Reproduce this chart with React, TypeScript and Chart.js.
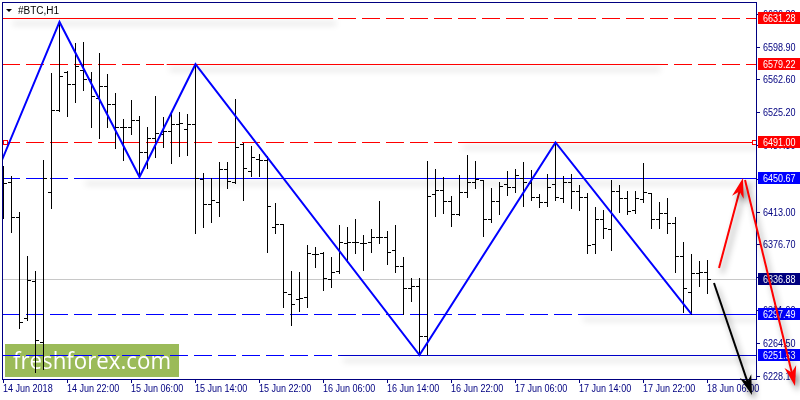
import { useEffect, useRef } from 'react'
import { Chart, LineController, LineElement, PointElement, LinearScale } from 'chart.js'

Chart.register(LineController, LineElement, PointElement, LinearScale)

// #BTC H1 bars, 14 Jun 14:00 .. 18 Jun 06:00
const opens = [6454.4, 6446.5, 6407.0, 6293.2, 6334.9, 6266.2, 6435.2, 6527.6, 6570.4, 6556.9,
  6572.7, 6562.5, 6541.1, 6554.6, 6534.4, 6508.4, 6508.4, 6516.3, 6480.3, 6496.0,
  6500.6, 6503.9, 6511.8, 6506.2, 6511.8, 6449.9, 6421.7, 6423.9, 6461.1, 6446.5,
  6489.3, 6458.9, 6472.4, 6471.3, 6395.8, 6399.1, 6320.3, 6314.6, 6316.9, 6365.3,
  6366.5, 6337.2, 6346.2, 6377.7, 6378.9, 6377.7, 6378.9, 6384.5, 6384.5, 6369.8,
  6351.8, 6327.0, 6329.3, 6272.9, 6432.9, 6437.5, 6425.1, 6410.4, 6435.2, 6446.5,
  6448.7, 6404.8, 6425.1, 6444.2, 6440.8, 6451.0, 6445.3, 6429.6, 6423.9, 6444.2,
  6428.4, 6446.5, 6436.3, 6429.6, 6376.6, 6404.8, 6393.5, 6436.3, 6428.4, 6414.9,
  6427.3, 6434.1, 6404.8, 6411.5, 6400.3, 6363.1, 6322.5, 6343.9, 6345.0]
const highs = [6464.5, 6453.2, 6412.7, 6363.1, 6346.2, 6471.3, 6569.3, 6626.8, 6571.5, 6603.1,
  6604.2, 6570.4, 6591.8, 6568.2, 6546.8, 6517.5, 6538.9, 6520.8, 6508.4, 6543.4,
  6519.7, 6525.3, 6525.3, 6523.1, 6579.22, 6456.6, 6451.0, 6469.0, 6469.0, 6540.0,
  6490.4, 6487.0, 6478.0, 6475.8, 6422.8, 6399.6, 6346.2, 6345.0, 6375.5, 6373.2,
  6367.6, 6362.0, 6398.0, 6395.8, 6404.8, 6386.7, 6393.5, 6425.1, 6391.3, 6398.0,
  6362.0, 6338.3, 6338.3, 6470.1, 6461.1, 6452.1, 6430.7, 6454.4, 6476.9, 6470.1,
  6449.2, 6439.7, 6446.5, 6458.9, 6461.1, 6469.0, 6460.0, 6432.9, 6455.5, 6491.0,
  6453.2, 6455.5, 6443.1, 6434.1, 6418.3, 6414.9, 6448.7, 6443.1, 6436.3, 6436.3,
  6467.9, 6434.6, 6423.9, 6428.4, 6407.0, 6378.9, 6365.3, 6357.4, 6358.6]
const lows = [6405.9, 6390.1, 6281.9, 6291.0, 6232.9, 6235.7, 6417.2, 6526.5, 6520.8, 6536.6,
  6550.1, 6508.4, 6496.0, 6508.4, 6484.8, 6471.3, 6500.6, 6452.1, 6462.2, 6474.6,
  6485.9, 6467.9, 6475.8, 6476.9, 6389.0, 6395.8, 6401.4, 6408.2, 6439.7, 6445.3,
  6426.2, 6453.2, 6453.2, 6367.6, 6389.0, 6305.6, 6285.3, 6301.1, 6305.6, 6350.7,
  6324.8, 6328.2, 6343.9, 6356.3, 6366.5, 6347.3, 6367.6, 6377.7, 6354.1, 6345.0,
  6297.7, 6312.4, 6251.53, 6252.3, 6408.2, 6411.5, 6396.9, 6409.3, 6429.6, 6439.7,
  6385.6, 6401.4, 6410.4, 6431.8, 6435.2, 6419.4, 6426.2, 6418.3, 6419.4, 6426.2,
  6423.9, 6417.2, 6414.9, 6366.5, 6366.5, 6383.4, 6369.8, 6412.7, 6410.4, 6411.5,
  6423.9, 6394.6, 6394.6, 6389.0, 6345.0, 6300.0, 6297.49, 6329.3, 6321.4]
const closes = [6445.3, 6407.0, 6288.7, 6336.0, 6268.4, 6451.0, 6527.6, 6565.9, 6556.9, 6577.2,
  6562.5, 6543.4, 6554.6, 6534.4, 6508.4, 6507.9, 6516.3, 6480.3, 6496.0, 6501.7,
  6503.9, 6511.8, 6512.9, 6511.8, 6451.0, 6421.7, 6426.2, 6461.1, 6447.6, 6485.9,
  6462.2, 6474.6, 6471.3, 6419.4, 6399.1, 6322.5, 6309.0, 6315.8, 6366.5, 6364.8,
  6338.3, 6345.0, 6378.9, 6378.9, 6378.4, 6377.2, 6384.5, 6384.0, 6367.6, 6351.8,
  6327.0, 6329.3, 6272.9, 6430.7, 6437.5, 6425.1, 6410.4, 6435.2, 6446.5, 6449.9,
  6404.8, 6425.1, 6442.0, 6440.8, 6454.4, 6446.5, 6429.6, 6423.9, 6440.8, 6429.6,
  6446.5, 6436.3, 6429.6, 6375.5, 6404.8, 6394.6, 6436.3, 6428.4, 6413.8, 6428.4,
  6435.2, 6404.8, 6411.5, 6400.3, 6363.1, 6327.0, 6343.9, 6345.0, 6336.88]

const timeLabels = ['14 Jun 2018', '14 Jun 22:00', '15 Jun 06:00', '15 Jun 14:00', '15 Jun 22:00',
  '16 Jun 06:00', '16 Jun 14:00', '16 Jun 22:00', '17 Jun 06:00', '17 Jun 14:00', '17 Jun 22:00', '18 Jun 06:00']
const timeLabelBars = [0, 8, 16, 24, 32, 40, 48, 56, 64, 72, 80, 88]

const priceTicks = [6636.30, 6598.90, 6562.60, 6525.20, 6487.80, 6450.40, 6413.00, 6376.70, 6339.30, 6301.90, 6264.50, 6228.10]

const zigzagBars = [-1, 7, 17, 24, 52, 69, 86]
const zigzagPrices = [6453.7, 6626.8, 6452.1, 6579.22, 6251.53, 6491.0, 6297.49]

// horizontal levels: dashed across, solid part from/to bar index
const levelPrices = [6631.28, 6579.22, 6491.00, 6450.67, 6297.49, 6251.53]
const levelSolidFrom = [0.8, 20.4, 57.1, 9.9, 72.1, 42.1]
const levelSolidTo = [41.2, 81.7, 95, 95, 95, 95]

const bidPrice = 6336.88

// arrows drawn on the chart (bar index, price)
const arrowFromBar = [89.44, 92.69, 88.81]
const arrowFromPrice = [6349.6, 6448.7, 6332.7]
const arrowToBar = [92.44, 98.94, 93.56]
const arrowToPrice = [6451.0, 6216.6, 6206.4]

// styles
const RED = '#ff0000'
const BLUE = '#0000ff'
const NAVY = '#000080'
const levelColors = [RED, RED, RED, BLUE, BLUE, BLUE]
const levelSolidColors = [RED, RED, RED, BLUE, BLUE, '#0000c8']
const arrowColors = [RED, RED, '#000000']

function narrowText(ctx: CanvasRenderingContext2D, text: string, x: number, y: number) {
  ctx.save()
  ctx.translate(x, y)
  ctx.scale(0.82, 1)
  ctx.fillText(text, 0, 0)
  ctx.restore()
}

function shadow(ctx: CanvasRenderingContext2D, a = 0.4) {
  ctx.shadowColor = `rgba(0,0,0,${a})`
  ctx.shadowBlur = 6
  ctx.shadowOffsetX = 3
  ctx.shadowOffsetY = 5
}

function arrow(ctx: CanvasRenderingContext2D, x1: number, y1: number, x2: number, y2: number, color: string) {
  const ang = Math.atan2(y2 - y1, x2 - x1)
  const len = Math.hypot(x2 - x1, y2 - y1)
  ctx.save()
  shadow(ctx, 0.45)
  ctx.translate(x1, y1)
  ctx.rotate(ang)
  ctx.strokeStyle = color
  ctx.lineWidth = 2
  ctx.beginPath()
  ctx.moveTo(0, 0)
  ctx.lineTo(len - 10, 0)
  ctx.stroke()
  ctx.fillStyle = color
  ctx.beginPath()
  ctx.moveTo(len, 0)
  ctx.lineTo(len - 20, -6)
  ctx.lineTo(len - 14, 0)
  ctx.lineTo(len - 20, 6)
  ctx.closePath()
  ctx.fill()
  ctx.restore()
}

const mtPlugin = {
  id: 'mt4',
  beforeDraw(chart: any) {
    const ctx = chart.ctx
    ctx.save()
    ctx.fillStyle = '#ffffff'
    ctx.fillRect(0, 0, chart.width, chart.height)
    ctx.restore()
  },
  beforeDatasetsDraw(chart: any) {
    const { ctx, chartArea: a } = chart
    const xs = chart.scales.x
    const ys = chart.scales.y
    const py = (v: number) => Math.round(ys.getPixelForValue(v))
    ctx.save()
    ctx.beginPath()
    ctx.rect(a.left, a.top, a.right - a.left, a.bottom - a.top)
    ctx.clip()

    // watermark
    ctx.fillStyle = '#9bbb59'
    ctx.fillRect(5, 344, 174, 33)
    ctx.fillStyle = '#ffffff'
    ctx.font = '23px "Open Sans"'
    const w = ctx.measureText('freshforex.com').width
    ctx.save()
    ctx.translate(13, 369)
    ctx.scale(158 / w, 1)
    ctx.fillText('freshforex.com', 0, 0)
    ctx.restore()

    // bid line
    ctx.strokeStyle = '#c8c8c8'
    ctx.lineWidth = 1
    ctx.beginPath()
    ctx.moveTo(a.left, py(bidPrice) + 0.5)
    ctx.lineTo(a.right, py(bidPrice) + 0.5)
    ctx.stroke()

    // levels
    levelPrices.forEach((p, i) => {
      const yy = py(p) + 0.5
      ctx.strokeStyle = levelColors[i]
      ctx.setLineDash([18, 6])
      ctx.beginPath()
      ctx.moveTo(a.left, yy)
      ctx.lineTo(a.right, yy)
      ctx.stroke()
      ctx.setLineDash([])
      ctx.save()
      shadow(ctx)
      ctx.strokeStyle = levelSolidColors[i]
      ctx.beginPath()
      ctx.moveTo(Math.max(a.left, xs.getPixelForValue(levelSolidFrom[i])), yy)
      ctx.lineTo(Math.min(a.right - 1, xs.getPixelForValue(levelSolidTo[i])), yy)
      ctx.stroke()
      ctx.restore()
    })

    // small markers of the 6491.00 line
    const ym = py(levelPrices[2])
    ctx.strokeStyle = RED
    ctx.fillStyle = '#ffffff'
    ctx.fillRect(3, ym - 2, 4, 4)
    ctx.strokeRect(3.5, ym - 1.5, 4, 4)
    ctx.fillRect(752, ym - 2, 4, 4)
    ctx.strokeRect(752.5, ym - 1.5, 4, 4)

    // OHLC bars
    ctx.fillStyle = '#000000'
    opens.forEach((o, i) => {
      const cx = Math.floor(xs.getPixelForValue(i))
      const yh = py(highs[i])
      const yl = py(lows[i])
      ctx.fillRect(cx, yh, 1, yl - yh + 1)
      ctx.fillRect(cx - 3, py(o), 3, 1)
      ctx.fillRect(cx + 1, py(closes[i]), 3, 1)
    })
    ctx.restore()
  },
  afterDraw(chart: any) {
    const { ctx, chartArea: a } = chart
    const xs = chart.scales.x
    const ys = chart.scales.y
    const py = (v: number) => Math.round(ys.getPixelForValue(v))
    ctx.save()

    // frame
    ctx.strokeStyle = NAVY
    ctx.lineWidth = 1
    ctx.strokeRect(a.left + 0.5, a.top + 0.5, a.right - a.left - 1, a.bottom - a.top)

    ctx.font = '11px "Liberation Sans"'
    ctx.textBaseline = 'middle'
    ctx.textAlign = 'left'

    // price scale
    priceTicks.forEach((t) => {
      const yy = py(t)
      ctx.fillStyle = NAVY
      ctx.fillRect(a.right, yy, 3, 1)
      narrowText(ctx, t.toFixed(2), a.right + 6, yy + 0.5)
    })

    // time scale
    ctx.textBaseline = 'alphabetic'
    timeLabelBars.forEach((b, i) => {
      const xx = Math.floor(xs.getPixelForValue(b))
      ctx.fillStyle = NAVY
      ctx.fillRect(xx, a.bottom, 1, 4)
      narrowText(ctx, timeLabels[i], xx, 392)
    })

    // level price boxes
    ctx.textBaseline = 'middle'
    const boxes = [...levelPrices, bidPrice]
    const boxColors = [...levelColors, NAVY]
    boxes.forEach((p, i) => {
      const yy = py(p)
      ctx.fillStyle = boxColors[i]
      ctx.fillRect(a.right + 1, yy - 6, chart.width - a.right - 1, 12)
      ctx.fillStyle = '#ffffff'
      narrowText(ctx, p.toFixed(2), a.right + 6, yy + 0.5)
    })

    // title
    ctx.fillStyle = '#000000'
    ctx.beginPath()
    ctx.moveTo(6, 9)
    ctx.lineTo(12, 9)
    ctx.lineTo(9, 12)
    ctx.closePath()
    ctx.fill()
    ctx.font = '10px "Liberation Sans"'
    ctx.textBaseline = 'alphabetic'
    ctx.fillText('#BTC,H1', 18, 14)

    // arrows
    arrowFromBar.forEach((b, i) => {
      arrow(ctx,
        xs.getPixelForValue(b), ys.getPixelForValue(arrowFromPrice[i]),
        xs.getPixelForValue(arrowToBar[i]), ys.getPixelForValue(arrowToPrice[i]),
        arrowColors[i])
    })
    ctx.restore()
  }
}

export default function App() {
  const ref = useRef<HTMLCanvasElement>(null)

  useEffect(() => {
    document.body.style.margin = '0'
    if (!ref.current) return
    const chart = new Chart(ref.current, {
      type: 'line',
      data: {
        datasets: [{
          data: zigzagBars.map((b, i) => ({ x: b, y: zigzagPrices[i] })),
          borderColor: BLUE,
          borderWidth: 2,
          pointRadius: 0,
          tension: 0,
          fill: false
        }]
      },
      options: {
        animation: false,
        responsive: true,
        maintainAspectRatio: false,
        devicePixelRatio: 1,
        layout: { padding: { left: 2, top: 2, right: 43, bottom: 21 } },
        scales: {
          x: { type: 'linear', min: -0.1875, max: 94.1875, display: false },
          y: { type: 'linear', min: 6224.47, max: 6649.31, display: false }
        },
        plugins: { legend: { display: false }, tooltip: { enabled: false } }
      },
      plugins: [mtPlugin]
    })
    return () => chart.destroy()
  }, [])

  return (
    <div style={{ width: 800, height: 400 }}>
      <canvas ref={ref} />
    </div>
  )
}
